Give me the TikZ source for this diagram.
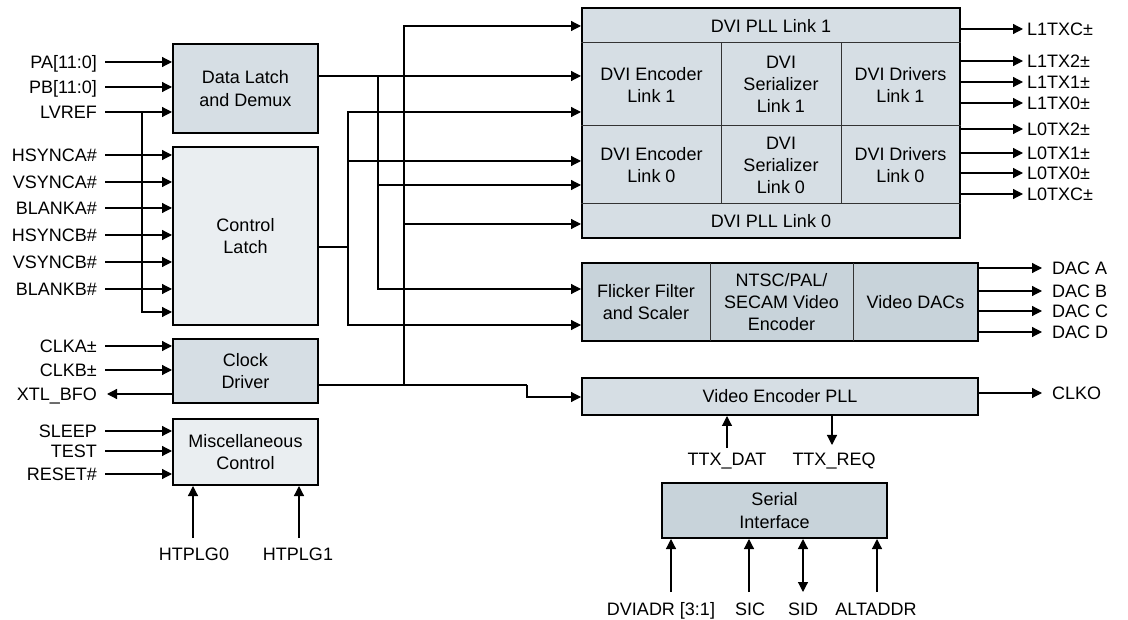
\documentclass[tikz,border=0pt]{standalone}
\usepackage{fontspec}
\setmainfont{Liberation Sans}
\usetikzlibrary{arrows.meta}
\definecolor{fdark}{HTML}{C8D3DA}
\definecolor{fmid}{HTML}{D6DEE4}
\definecolor{flight}{HTML}{EAEEF1}
\begin{document}
\begin{tikzpicture}[x=1pt,y=-1pt,
  box/.style={draw=black,line width=2pt,inner sep=0pt,align=center,font=\fontsize{18}{22.5}\selectfont},
  cell/.style={inner sep=0pt,align=center,font=\fontsize{18}{22}\selectfont},
  lbl/.style={inner sep=0pt,text height=13pt,text depth=0pt,font=\fontsize{18}{22}\selectfont},
  wire/.style={line width=1.2pt},
  arr/.style={line width=1.2pt,-{Triangle[length=10pt,width=10pt]}},
  darr/.style={line width=1.2pt,{Triangle[length=10pt,width=10pt]}-{Triangle[length=10pt,width=10pt]}},
  grid/.style={line width=1pt,draw=black!80}]
\useasboundingbox (0,0) rectangle (1128,620);

% ---- left blocks
\node[box,fill=fmid,minimum width=145pt,minimum height=89pt] (dl) at (245.5,88.5) {Data Latch\\and Demux};
\node[box,fill=flight,minimum width=145pt,minimum height=178pt] (cl) at (245.5,236) {Control\\Latch};
\node[box,fill=fmid,minimum width=145pt,minimum height=64pt] (cd) at (245.5,371) {Clock\\Driver};
\node[box,fill=flight,minimum width=145pt,minimum height=66pt] (mc) at (245.5,452) {Miscellaneous\\Control};

% ---- DVI block
\node[box,fill=fmid,minimum width=378pt,minimum height=230pt] (dvi) at (771,123) {};
\draw[grid] (dvi.west |- 0,43) -- (dvi.east |- 0,43);
\draw[grid] (dvi.west |- 0,126) -- (dvi.east |- 0,126);
\draw[grid] (dvi.west |- 0,204) -- (dvi.east |- 0,204);
\draw[grid] (721,43) -- (721,204);
\draw[grid] (841,43) -- (841,204);
\node[cell] (pll1) at (771,25.5) {DVI PLL Link 1};
\node[cell] (enc1) at (651.5,84.5) {DVI Encoder\\Link 1};
\node[cell] (ser1) at (781,84.5) {DVI\\Serializer\\Link 1};
\node[cell] (drv1) at (900.5,84.5) {DVI Drivers\\Link 1};
\node[cell] (enc0) at (651.5,165) {DVI Encoder\\Link 0};
\node[cell] (ser0) at (781,165) {DVI\\Serializer\\Link 0};
\node[cell] (drv0) at (900.5,165) {DVI Drivers\\Link 0};
\node[cell] (pll0) at (771,221) {DVI PLL Link 0};

% ---- video block
\node[box,fill=fdark,minimum width=396pt,minimum height=78pt] (fl) at (780,302) {};
\draw[grid] (710,263) -- (710,341);
\draw[grid] (853,263) -- (853,341);
\node[cell] (ffs) at (646,302) {Flicker Filter\\and Scaler};
\node[cell] (ntsc) at (781.5,302) {NTSC/PAL/\\SECAM Video\\Encoder};
\node[cell] (vdac) at (915.5,302) {Video DACs};

\node[box,fill=fmid,minimum width=396pt,minimum height=37pt] (vpll) at (780,396.5) {Video Encoder PLL};
\node[box,fill=fdark,minimum width=225pt,minimum height=55pt] (si) at (774.5,510.5) {Serial\\Interface};

% ---- left input labels
\foreach \n/\t/\y in {pa/PA[11:0]/62, pb/PB[11:0]/87, lvref/LVREF/112,
  hsa/HSYNCA\#/155, vsa/VSYNCA\#/182, bla/BLANKA\#/208,
  hsb/HSYNCB\#/235, vsb/VSYNCB\#/262, blb/BLANKB\#/289,
  clka/CLKA±/346, clkb/CLKB±/370, xtl/XTL\_BFO/394,
  slp/SLEEP/431, tst/TEST/451, rst/RESET\#/474}
  \node[lbl,anchor=east] (\n) at (97,\y) {\t};

\foreach \n in {pa,pb,lvref} \draw[arr] ([xshift=8pt]\n.east) -- (\n.east -| dl.west);
\foreach \n in {hsa,vsa,bla,hsb,vsb,blb} \draw[arr] ([xshift=8pt]\n.east) -- (\n.east -| cl.west);
\coordinate (jL) at (142,112);
\draw[arr] (jL) |- (cl.west |- 0,312);
\foreach \n in {clka,clkb} \draw[arr] ([xshift=8pt]\n.east) -- (\n.east -| cd.west);
\draw[arr] (xtl.east -| cd.west) -- ([xshift=10pt]xtl.east);
\foreach \n in {slp,tst,rst} \draw[arr] ([xshift=8pt]\n.east) -- (\n.east -| mc.west);

% ---- bottom of misc
\node[lbl,anchor=north] (hp0) at (194,547) {HTPLG0};
\node[lbl,anchor=north] (hp1) at (298,547) {HTPLG1};
\draw[arr,shorten <=9pt] (hp0.north -| 193,0) -- (mc.south -| 193,0);
\draw[arr,shorten <=9pt] (hp1.north -| 299,0) -- (mc.south -| 299,0);

% ---- interconnect
\coordinate (jA) at (378,76);
\coordinate (jB) at (348,247);
\coordinate (jC) at (404,385);
\coordinate (jD) at (527,385);
\draw[arr] (dl.east |- jA) -- (dvi.west |- jA);
\draw[arr] (jA) |- (dvi.west |- 0,185);
\draw[arr] (jA) |- (fl.west |- 0,289);
\draw[wire] (cl.east |- jB) -- (jB);
\draw[arr] (jB) |- (dvi.west |- 0,112);
\draw[arr] (jB) |- (dvi.west |- 0,161);
\draw[arr] (jB) |- (fl.west |- 0,325);
\draw[wire] (cd.east |- jC) -- (jD);
\draw[arr] (jD) |- (vpll.west |- 0,397);
\draw[arr] (jC) |- (dvi.west |- 0,26);
\draw[arr] (jC) |- (dvi.west |- 0,224);

% ---- DVI outputs
\foreach \n/\t/\y in {o1/L1TXC±/29, o2/L1TX2±/61, o3/L1TX1±/82, o4/L1TX0±/103,
  o5/L0TX2±/129, o6/L0TX1±/153, o7/L0TX0±/173, o8/L0TXC±/194}
  {\node[lbl,anchor=west] (\n) at (1027,\y) {\t};
   \draw[arr] (\n.west -| dvi.east) -- ([xshift=-4pt]\n.west);}

% ---- DAC outputs
\foreach \n/\t/\y in {da/DAC A/268, db/DAC B/291, dc/DAC C/311, dd/DAC D/332}
  {\node[lbl,anchor=west] (\n) at (1052,\y) {\t};
   \draw[arr] (\n.west -| fl.east) -- ([xshift=-10pt]\n.west);}
\node[lbl,anchor=west] (clko) at (1052,393) {CLKO};
\draw[arr] (clko.west -| vpll.east) -- ([xshift=-10pt]clko.west);

% ---- TTX
\node[lbl,anchor=north] (ttxd) at (727,452) {TTX\_DAT};
\node[lbl,anchor=north] (ttxr) at (834,452) {TTX\_REQ};
\draw[arr,shorten <=4pt] (ttxd.north -| 727,0) -- (vpll.south -| 727,0);
\draw[arr,shorten >=7pt] (vpll.south -| 832,0) -- (ttxr.north -| 832,0);

% ---- serial interface pins
\node[lbl,anchor=north] (dva) at (661,602) {DVIADR [3:1]};
\node[lbl,anchor=north] (sic) at (750,602) {SIC};
\node[lbl,anchor=north] (sid) at (803,602) {SID};
\node[lbl,anchor=north] (alt) at (876,602) {ALTADDR};
\draw[arr,shorten <=10pt] (dva.north -| 671,0) -- (si.south -| 671,0);
\draw[arr,shorten <=10pt] (sic.north -| 749,0) -- (si.south -| 749,0);
\draw[darr,shorten <=10pt] (sid.north -| 803,0) -- (si.south -| 803,0);
\draw[arr,shorten <=10pt] (alt.north -| 877,0) -- (si.south -| 877,0);
\end{tikzpicture}
\end{document}
